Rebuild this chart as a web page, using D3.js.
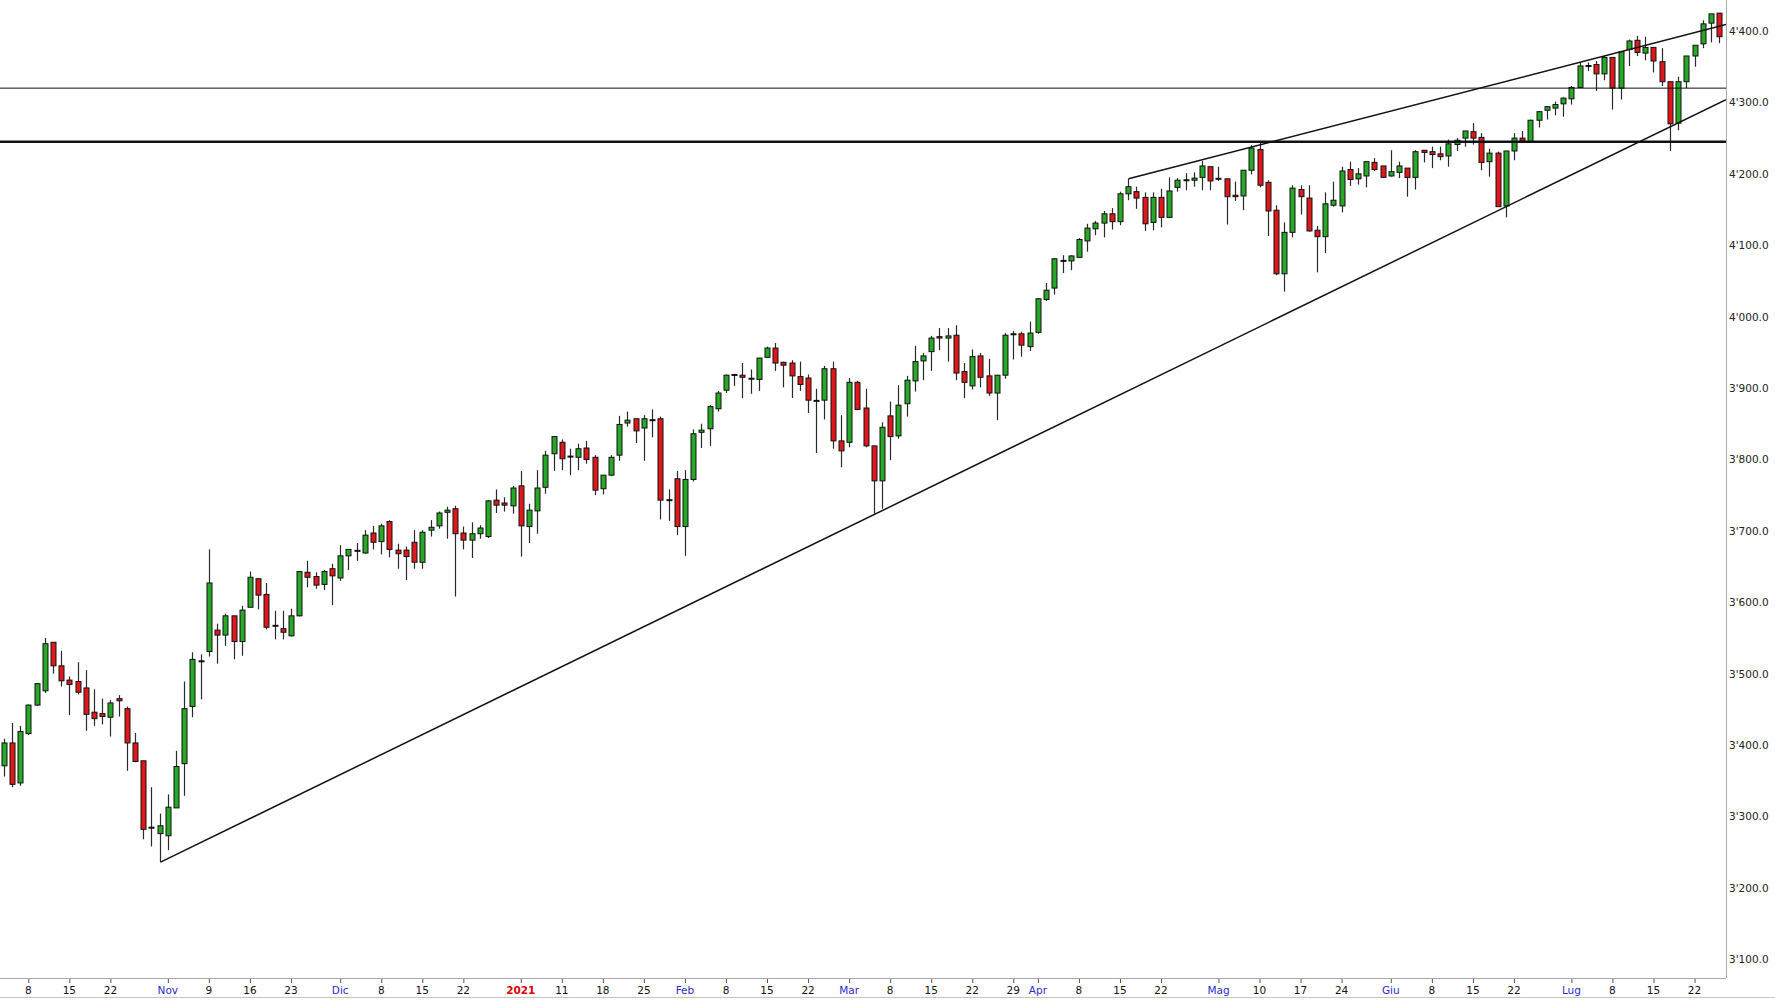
<!DOCTYPE html>
<html>
<head>
<meta charset="utf-8">
<script src="https://cdn.jsdelivr.net/npm/d3@7"></script>
<style>
  html, body { margin: 0; padding: 0; background: #ffffff; }
  svg { display: block; }
</style>
</head>
<body>
<script>
// ---------- DATA ----------
const firstDay = "2020-10-05";
const lastDay = "2021-07-27";
const closedDays = ["2020-12-25", "2021-01-01"];

const open = [3371,3403,3347,3416,3456,3476,3544,3511,3491,3489,3480,3446,3444,3439,3465,3451,3403,3378,3285,3276,
3273,3312,3374,3454,3517,3531,3561,3554,3581,3545,3593,3633,3611,3567,3563,3553,3581,3642,3636,3625,
3647,3634,3665,3672,3669,3697,3685,3713,3673,3673,3684,3656,3701,3707,3726,3731,3697,3687,3696,3692,
3743,3739,3735,3763,3706,3728,3761,3808,3824,3804,3803,3816,3803,3759,3778,3806,3851,3857,3844,3855,
3857,3743,3773,3706,3772,3838,3843,3871,3897,3919,3918,3913,3912,3943,3956,3936,3935,3916,3914,3882,
3883,3927,3826,3824,3908,3872,3819,3770,3861,3833,3878,3910,3938,3951,3972,3970,3974,3923,3903,3945,
3917,3893,3918,3976,3976,3958,3978,4024,4040,4078,4078,4083,4106,4123,4131,4144,4133,4172,4175,4167,
4132,4167,4139,4181,4191,4191,4195,4210,4193,4193,4170,4169,4205,4234,4188,4149,4060,4118,4178,4166,
4121,4112,4156,4155,4206,4193,4197,4216,4211,4197,4202,4208,4195,4233,4231,4228,4225,4241,4250,4259,
4251,4217,4229,4155,4232,4250,4245,4275,4289,4292,4298,4305,4321,4351,4353,4340,4363,4320,4374,4387,
4369,4377,4357,4329,4271,4329,4365,4382,4411,4425];

const high = [3409,3431,3427,3457,3487,3550,3544,3532,3496,3516,3505,3478,3465,3463,3470,3454,3417,3378,3341,3304,
3331,3392,3489,3530,3527,3674,3570,3584,3581,3595,3643,3633,3627,3588,3588,3591,3643,3658,3642,3645,
3654,3680,3674,3683,3701,3707,3710,3715,3682,3678,3701,3701,3715,3727,3734,3735,3706,3712,3708,3743,
3758,3747,3763,3784,3738,3785,3812,3832,3828,3815,3822,3826,3806,3778,3806,3861,3867,3857,3862,3870,
3860,3758,3784,3785,3842,3850,3876,3896,3919,3920,3935,3926,3942,3958,3963,3937,3939,3937,3919,3899,
3931,3937,3862,3914,3910,3899,3819,3852,3881,3904,3917,3959,3949,3973,3984,3984,3988,3935,3954,3949,
3941,3918,3977,3980,3979,3993,4026,4047,4082,4086,4086,4110,4130,4134,4148,4152,4175,4193,4182,4174,
4174,4179,4195,4194,4201,4202,4218,4210,4210,4193,4189,4205,4240,4245,4191,4156,4132,4184,4184,4184,
4127,4174,4189,4210,4217,4208,4217,4222,4211,4233,4217,4208,4233,4233,4238,4238,4248,4250,4260,4271,
4257,4235,4231,4232,4257,4260,4276,4288,4295,4301,4307,4323,4356,4356,4358,4365,4363,4372,4388,4393,
4392,4377,4376,4329,4336,4365,4380,4415,4424,4425];

const low = [3356,3341,3343,3414,3455,3473,3500,3482,3442,3471,3420,3427,3429,3412,3440,3364,3376,3268,3258,3236,
3253,3312,3329,3439,3464,3524,3514,3539,3520,3525,3593,3590,3562,3548,3548,3552,3580,3621,3619,3617,
3596,3630,3645,3658,3668,3674,3667,3663,3647,3631,3647,3647,3692,3703,3689,3608,3674,3662,3689,3690,
3725,3727,3724,3664,3683,3696,3752,3784,3785,3778,3785,3794,3750,3751,3777,3798,3846,3823,3798,3831,
3716,3714,3694,3665,3769,3816,3819,3867,3893,3903,3886,3892,3896,3942,3924,3901,3886,3896,3865,3809,
3856,3815,3789,3817,3869,3817,3724,3731,3799,3829,3860,3895,3911,3924,3953,3937,3911,3886,3898,3901,
3889,3855,3913,3940,3944,3952,3976,4022,4031,4061,4065,4082,4091,4114,4111,4122,4128,4163,4151,4120,
4121,4125,4138,4175,4177,4182,4177,4177,4190,4129,4162,4149,4199,4181,4113,4058,4035,4111,4143,4119,
4062,4089,4154,4146,4183,4185,4181,4204,4194,4196,4194,4168,4178,4216,4208,4219,4210,4232,4238,4241,
4205,4196,4154,4139,4219,4244,4244,4265,4276,4282,4280,4297,4320,4344,4316,4331,4290,4304,4351,4365,
4359,4342,4323,4232,4261,4320,4350,4376,4384,4383];

const close = [3403,3345,3419,3456,3486,3542,3511,3490,3485,3474,3443,3437,3440,3459,3462,3403,3377,3282,3284,3287,
3313,3370,3451,3520,3518,3627,3554,3581,3545,3589,3635,3610,3565,3567,3558,3581,3643,3635,3624,3643,
3637,3665,3674,3672,3694,3684,3707,3674,3668,3664,3656,3698,3705,3725,3729,3696,3687,3696,3704,3742,
3736,3736,3760,3707,3729,3760,3806,3832,3801,3804,3815,3800,3757,3778,3803,3849,3855,3840,3857,3855,
3743,3743,3706,3772,3836,3841,3874,3893,3918,3918,3915,3913,3942,3956,3935,3932,3917,3905,3883,3882,
3927,3826,3812,3908,3870,3819,3770,3845,3832,3876,3911,3937,3945,3970,3970,3973,3921,3908,3944,3915,
3893,3918,3974,3975,3960,3977,4025,4037,4081,4078,4085,4108,4124,4131,4144,4133,4172,4182,4166,4130,
4167,4139,4176,4191,4191,4194,4211,4190,4193,4168,4168,4205,4236,4184,4148,4060,4118,4180,4168,4120,
4112,4158,4163,4204,4192,4200,4217,4206,4195,4203,4211,4195,4231,4230,4227,4224,4242,4247,4260,4250,
4216,4229,4154,4232,4250,4246,4275,4287,4294,4297,4306,4321,4351,4351,4340,4363,4320,4371,4386,4370,
4377,4358,4329,4270,4329,4365,4380,4410,4424,4392];

// Bottom axis labels
const tickDates = ["2020-10-08","2020-10-15","2020-10-22","2020-11-02","2020-11-09","2020-11-16","2020-11-23",
"2020-12-01","2020-12-08","2020-12-15","2020-12-22","2021-01-04","2021-01-11","2021-01-18","2021-01-25",
"2021-02-01","2021-02-08","2021-02-15","2021-02-22","2021-03-01","2021-03-08","2021-03-15","2021-03-22",
"2021-03-29","2021-04-01","2021-04-08","2021-04-15","2021-04-22","2021-05-03","2021-05-10","2021-05-17",
"2021-05-24","2021-06-01","2021-06-08","2021-06-15","2021-06-22","2021-07-01","2021-07-08","2021-07-15","2021-07-22"];
const tickLabels = ["8","15","22","Nov","9","16","23","Dic","8","15","22","2021","11","18","25",
"Feb","8","15","22","Mar","8","15","22","29","Apr","8","15","22","Mag","10","17",
"24","Giu","8","15","22","Lug","8","15","22"];
const tickKinds = ["d","d","d","m","d","d","d","m","d","d","d","y","d","d","d",
"m","d","d","d","m","d","d","d","d","m","d","d","d","m","d","d",
"d","m","d","d","d","m","d","d","d"];

// Price axis
const yTicks = [3100,3200,3300,3400,3500,3600,3700,3800,3900,4000,4100,4200,4300,4400];

// Horizontal levels
const levels = [4320, 4245];
const levelWeights = [1, 2.6];

// Trend lines: start at a candle, end at the plot's right edge
const trendFrom = ["2020-10-30", "2021-04-16"];
const trendFromValue = [3236, 4193];
const trendEndValue = [4304, 4409];

// ---------- LAYOUT ----------
const W = 1775, H = 1000;
const plotRight = 1726, plotBottom = 978;

const parse = d3.utcParse("%Y-%m-%d");
const fmt = d3.utcFormat("%Y-%m-%d");
const dates = d3.utcDay.range(parse(firstDay), d3.utcDay.offset(parse(lastDay), 1))
  .filter(d => d.getUTCDay() !== 0 && d.getUTCDay() !== 6 && !closedDays.includes(fmt(d)))
  .map(fmt);

const candles = dates.map((d, i) => ({ date: d, o: open[i], h: high[i], l: low[i], c: close[i] }));

const x = d3.scaleBand().domain(dates).range([-0.42, -0.42 + 8.208 * dates.length]).padding(0);
const cx = d => Math.round(x(d) + x.bandwidth() / 2);
const y = d3.scaleLinear().domain([3100, 4400]).range([959.3, 31]);

const svg = d3.select("body").append("svg").attr("width", W).attr("height", H);
svg.append("rect").attr("width", W).attr("height", H).attr("fill", "#ffffff");

svg.append("defs").append("clipPath").attr("id", "plotclip")
  .append("rect").attr("x", 0).attr("y", 0).attr("width", plotRight).attr("height", plotBottom);

const plot = svg.append("g").attr("clip-path", "url(#plotclip)");

// candles
const GREEN = "#27a827", RED = "#e0181c";
const cg = plot.append("g");
const cand = cg.selectAll("g.c").data(candles).join("g").attr("class", "c");
cand.append("line")
  .attr("x1", d => cx(d.date) + 0.5).attr("x2", d => cx(d.date) + 0.5)
  .attr("y1", d => y(d.h)).attr("y2", d => y(d.l))
  .attr("stroke", "#2a2a2a").attr("stroke-width", 1.2);
cand.filter(d => Math.abs(d.o - d.c) >= 1).append("rect")
  .attr("x", d => cx(d.date) - 2)
  .attr("width", 5)
  .attr("y", d => y(Math.max(d.o, d.c)))
  .attr("height", d => Math.max(1, y(Math.min(d.o, d.c)) - y(Math.max(d.o, d.c))))
  .attr("fill", d => d.c > d.o ? GREEN : RED)
  .attr("stroke", "#111").attr("stroke-width", 1);
cand.filter(d => Math.abs(d.o - d.c) < 1).append("line")
  .attr("x1", d => cx(d.date) - 2.5).attr("x2", d => cx(d.date) + 3.5)
  .attr("y1", d => y(d.c)).attr("y2", d => y(d.c))
  .attr("stroke", "#111").attr("stroke-width", 2);

// horizontal levels
plot.selectAll("line.lvl").data(levels).join("line").attr("class", "lvl")
  .attr("x1", 0).attr("x2", plotRight)
  .attr("y1", d => y(d)).attr("y2", d => y(d))
  .attr("stroke", "#111").attr("stroke-width", (d, i) => levelWeights[i]);

// trend lines
plot.selectAll("line.tr").data(trendFrom).join("line").attr("class", "tr")
  .attr("x1", d => cx(d) + 0.5).attr("y1", (d, i) => y(trendFromValue[i]))
  .attr("x2", plotRight).attr("y2", (d, i) => y(trendEndValue[i]))
  .attr("stroke", "#111").attr("stroke-width", 1.5);

// frame
svg.append("line").attr("x1", plotRight + 0.5).attr("x2", plotRight + 0.5).attr("y1", 0).attr("y2", plotBottom)
  .attr("stroke", "#a8a8a8").attr("stroke-width", 1);
svg.append("line").attr("x1", 0).attr("x2", plotRight).attr("y1", plotBottom + 0.5).attr("y2", plotBottom + 0.5)
  .attr("stroke", "#a8a8a8").attr("stroke-width", 1);
svg.append("line").attr("x1", 0).attr("x2", W).attr("y1", 997.5).attr("y2", 997.5)
  .attr("stroke", "#c4c4c4").attr("stroke-width", 1);

// y axis (right)
const locale = d3.formatLocale({ decimal: ".", thousands: "'", grouping: [3], currency: ["", ""] });
const yFmt = locale.format(",.1f");
const yAxis = svg.append("g").attr("transform", `translate(${plotRight},0)`)
  .call(d3.axisRight(y).tickValues(yTicks).tickFormat(yFmt).tickSize(0).tickPadding(3));
yAxis.select(".domain").remove();
yAxis.selectAll("text").attr("font-family", "'DejaVu Sans', Verdana, sans-serif")
  .attr("font-size", 10.5).attr("fill", "#222");

// x axis (bottom)
const labelOf = {}; const kindOf = {};
tickDates.forEach((d, i) => { labelOf[d] = tickLabels[i]; kindOf[d] = tickKinds[i]; });
const xAxis = svg.append("g").attr("transform", `translate(0,${plotBottom + 1})`)
  .call(d3.axisBottom(x).tickValues(tickDates).tickFormat(d => labelOf[d]).tickSize(4).tickPadding(4));
xAxis.select(".domain").remove();
xAxis.selectAll(".tick line").attr("stroke", "#555").attr("transform", "translate(0.5,0)");
xAxis.selectAll(".tick text")
  .attr("font-family", "'DejaVu Sans', Verdana, sans-serif")
  .attr("font-size", 10.5)
  .attr("font-weight", d => kindOf[d] === "y" ? "bold" : "normal")
  .attr("fill", d => kindOf[d] === "m" ? "#2b2bc8" : (kindOf[d] === "y" ? "#e00000" : "#111"));
</script>
</body>
</html>
